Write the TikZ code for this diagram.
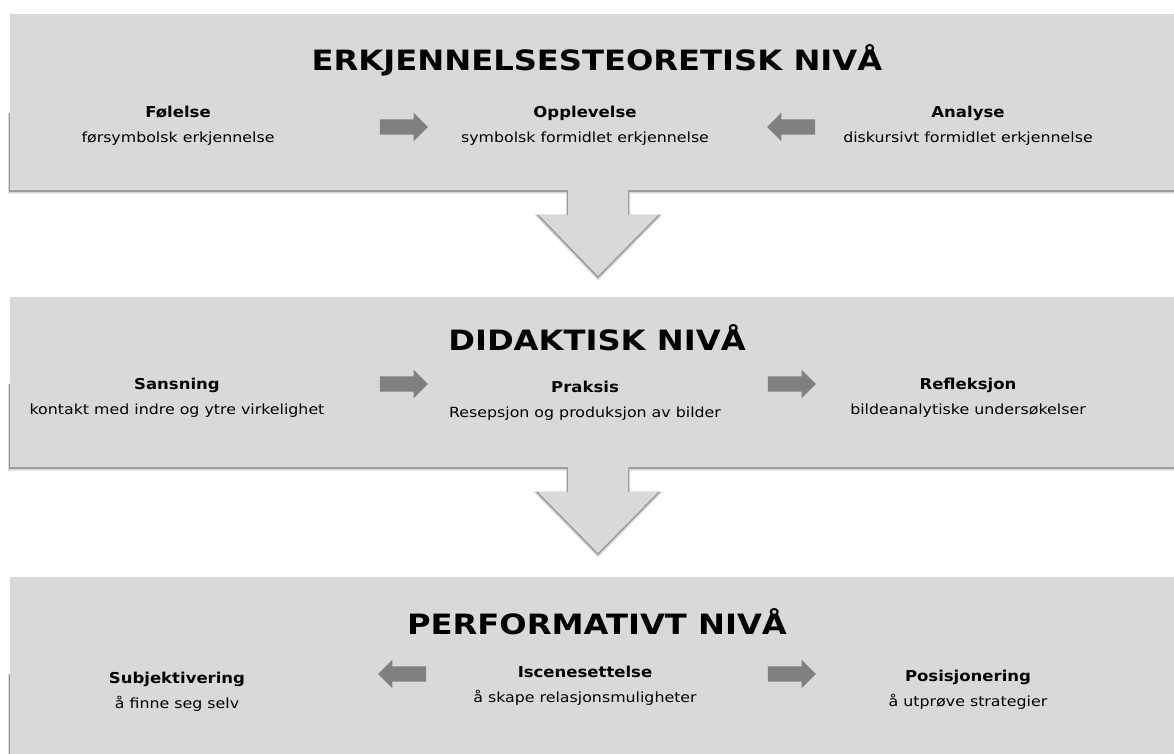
\documentclass[tikz,border=0pt]{standalone}
\usepackage{fontspec}
\setmainfont{DejaVu Sans}
\newfontfamily\levelfont{DejaVu Sans}[FakeStretch=1.15]
\newfontfamily\namefont{DejaVu Sans}[FakeStretch=1.1]
\newfontfamily\descfont{DejaVu Sans}[FakeStretch=1.13]
\usetikzlibrary{positioning}
\usetikzlibrary{shapes.arrows}
\definecolor{panelgray}{HTML}{D9D9D9}
\definecolor{arrowgray}{HTML}{808080}
\tikzset{x=1pt, y=-1pt, % One unit is one pixel of the reference, y goes down
panel/.style={ % Sets the properties for each level panel
fill=panelgray,
draw=none},
shadowsoft/.style={ % Blurred part of the panel shadow
draw=gray!30,
line width=4pt,
shift={(0,1.5)}},
shadowhard/.style={ % Dark part of the panel shadow
draw=gray!80,
line width=2pt,
shift={(0,0.8)}},
level/.style={ % Title of each level
font=\levelfont\fontsize{28}{32}\selectfont\bfseries,
inner sep=0pt},
item/.style={ % Sets the properties for each item
align=center,
font=\descfont\fontsize{14}{25}\selectfont,
inner sep=0pt},
flow/.style={ % Small gray block arrows between items
single arrow,
fill=arrowgray,
minimum height=48pt,
inner xsep=0pt,
inner ysep=7.5pt,
single arrow head extend=6.5pt}}
\newcommand{\itemtext}[2]{{\namefont\fontsize{15}{16}\selectfont\bfseries #1}\\#2}

\begin{document}
\begin{tikzpicture}
  \useasboundingbox (0,0) rectangle (1174,753);
  % shadows of the three panels
  \foreach \s in {shadowsoft,shadowhard}{
    \draw[\s] (10,112) -- (10,190) -- (568,190) -- (568,215) -- (539,215) -- (598,276)
              -- (658,215) -- (628,215) -- (628,190) -- (1180,190);
    \draw[\s] (10,383) -- (10,467) -- (568,467) -- (568,492) -- (538,492) -- (598,553)
              -- (658,492) -- (628,492) -- (628,467) -- (1180,467);
    \draw[\s] (10,673) -- (10,760);
  }
  % panels with their down arrows
  \fill[panel] (10,14) -- (1180,14) -- (1180,190) -- (628,190) -- (628,215) -- (658,215)
               -- (598,276) -- (539,215) -- (568,215) -- (568,190) -- (10,190) -- cycle;
  \fill[panel] (10,297) -- (1180,297) -- (1180,467) -- (628,467) -- (628,492) -- (658,492)
               -- (598,553) -- (538,492) -- (568,492) -- (568,467) -- (10,467) -- cycle;
  \fill[panel] (10,577) rectangle (1180,760);

  % erkjennelsesteoretisk
  \node[level] (epist) at (597,60) {ERKJENNELSESTEORETISK NIVÅ};
  \node[item]  (feel)  at (178,126) {\itemtext{Følelse}{førsymbolsk erkjennelse}};
  \node[item]  (exper) at (585,126) {\itemtext{Opplevelse}{symbolsk formidlet erkjennelse}};
  \node[item]  (anal)  at (968,126) {\itemtext{Analyse}{diskursivt formidlet erkjennelse}};
  \node[flow] (f1) at (400,127) {};
  \node[flow, shape border rotate=180] (f2) at (795,127) {};

  % didaktisk
  \node[level] (didak) at (597,338) {DIDAKTISK NIVÅ};
  \node[item]  (sense) at (177,398) {\itemtext{Sansning}{kontakt med indre og ytre virkelighet}};
  \node[item]  (prax)  at (585,401) {\itemtext{Praksis}{Resepsjon og produksjon av bilder}};
  \node[item]  (refl)  at (968,398) {\itemtext{Refleksjon}{bildeanalytiske undersøkelser}};
  \node[flow] (f3) at (400,384) {};
  \node[flow] (f4) at (788,384) {};

  % performativt
  \node[level] (perf)  at (597,622) {PERFORMATIVT NIVÅ};
  \node[item]  (subj)  at (177,692) {\itemtext{Subjektivering}{å finne seg selv}};
  \node[item]  (scene) at (585,686) {\itemtext{Iscenesettelse}{å skape relasjonsmuligheter}};
  \node[item]  (posi)  at (968,690) {\itemtext{Posisjonering}{å utprøve strategier}};
  \node[flow, shape border rotate=180] (f5) at (406,674) {};
  \node[flow] (f6) at (788,674) {};
\end{tikzpicture}
\end{document}
